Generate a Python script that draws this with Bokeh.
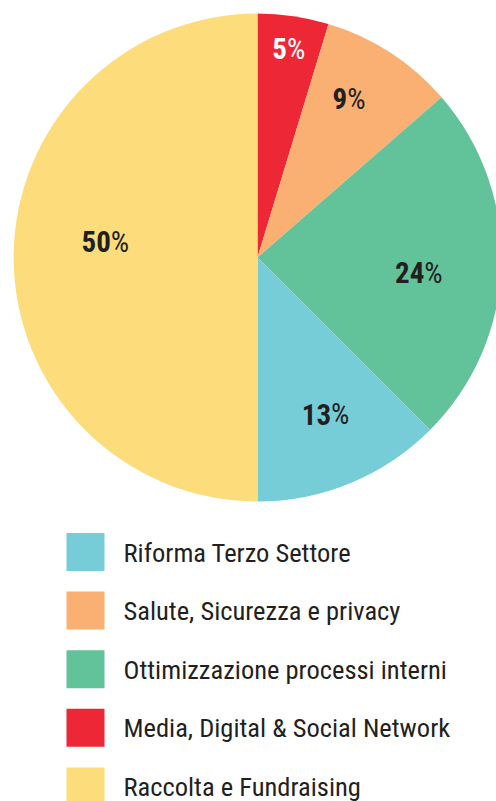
import math
from bokeh.plotting import figure
from bokeh.models import Range1d, ColumnDataSource
from bokeh.core.properties import value
from bokeh.embed import file_html
from bokeh.resources import INLINE

# Data (clockwise from 12 o'clock)
categories = ["Media, Digital & Social Network", "Salute, Sicurezza e privacy",
              "Ottimizzazione processi interni", "Riforma Terzo Settore",
              "Raccolta e Fundraising"]
shares = [4.7, 8.9, 23.9, 12.5, 50.0]
label_numbers = ["5", "9", "24", "13", "50"]
colors = ["#EE2737", "#F9B072", "#62C39B", "#76CDD8", "#FDDC7C"]
label_colors = ["#FFFFFF", "#231F20", "#231F20", "#231F20", "#231F20"]

legend_order = ["Riforma Terzo Settore", "Salute, Sicurezza e privacy",
                "Ottimizzazione processi interni", "Media, Digital & Social Network",
                "Raccolta e Fundraising"]

W, H = 496, 801
FONT = "Roboto Condensed, DejaVu Sans Condensed, Roboto"

p = figure(width=W, height=H, output_backend="svg", toolbar_location=None,
           x_range=Range1d(0, W), y_range=Range1d(0, H), min_border=0,
           outline_line_color=None)
p.axis.visible = False
p.grid.visible = False
p.background_fill_color = "white"

cx, cy, R = 257, H - 257, 244
total = sum(shares)
starts, ends, mids = [], [], []
a = math.pi / 2
for s in shares:
    da = 2 * math.pi * s / total
    starts.append(a - da)
    ends.append(a)
    mids.append(a - da / 2)
    a -= da

src = ColumnDataSource(dict(start=starts, end=ends, color=colors))
p.wedge(x=cx, y=cy, radius=R, start_angle="start", end_angle="end",
        fill_color="color", line_color=None, source=src)

# label placement (radius fraction, angular nudge in degrees, clockwise)
label_r = [0.865, 0.75, 0.664, 0.70, 0.627]
label_nudge = [0.0, -3.0, 3.4, -1.0, 6.0]
lx, ly = [], []
for f, m, n in zip(label_r, mids, label_nudge):
    ang = m - math.radians(n)
    lx.append(cx + R * f * math.cos(ang))
    ly.append(cy + R * f * math.sin(ang))

FS = 29
wd, wp = 0.49 * FS, 0.60 * FS
ax = [x + (len(t) * wd - wp) / 2 for x, t in zip(lx, label_numbers)]
lsrc = ColumnDataSource(dict(x=ax, y=ly, t=label_numbers,
                             pc=["%"] * len(ax), c=label_colors))
p.text(x="x", y="y", text="t", text_color="c", source=lsrc,
       text_font=value(FONT), text_font_size=f"{FS}px", text_font_style="bold",
       text_align="right", text_baseline="middle")
p.text(x="x", y="y", text="pc", text_color="c", source=lsrc,
       text_font=value(FONT), text_font_size=f"{FS}px", text_font_style="normal",
       text_align="left", text_baseline="middle")

# Legend
leg_colors = [colors[categories.index(c)] for c in legend_order]
ys = [H - (551.5 + 58.6 * i) for i in range(len(legend_order))]
p.rect(x=[85] * len(ys), y=ys, width=38, height=38, fill_color=leg_colors,
       line_color=None)
p.text(x=[123] * len(ys), y=ys, text=legend_order,
       text_font=value(FONT), text_font_size="26.5px", text_color="#231F20",
       text_align="left", text_baseline="alphabetic")

open("out.html", "w").write(file_html(p, INLINE))
